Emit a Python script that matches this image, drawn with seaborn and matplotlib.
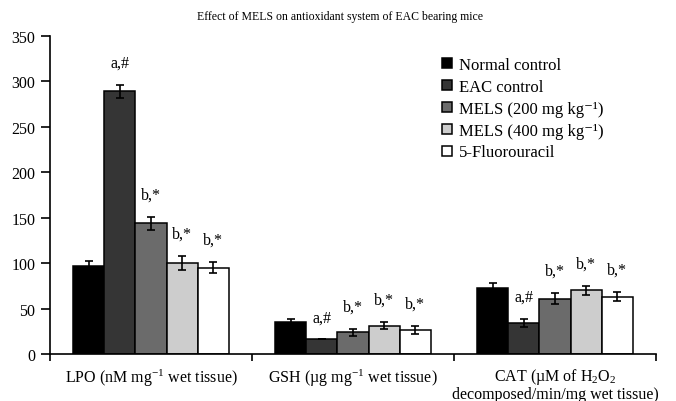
import numpy as np
import pandas as pd
import matplotlib
matplotlib.use("Agg")
import matplotlib.pyplot as plt
from matplotlib.lines import Line2D
import seaborn as sns

sns.set_theme(style="ticks")
plt.rcParams.update({
    "font.family": ["Liberation Serif", "DejaVu Serif"],
    "mathtext.fontset": "custom",
    "mathtext.rm": "Liberation Serif",
    "mathtext.it": "Liberation Serif:italic",
    "mathtext.bf": "Liberation Serif:bold",
    "axes.edgecolor": "black",
    "axes.linewidth": 1.2,
    "xtick.color": "black", "ytick.color": "black",
    "text.color": "black", "axes.labelcolor": "black",
})

# categories on the x axis
MARKERS = ["LPO (nM mg$^{-1}$ wet tissue)",
           "GSH (\u00b5g mg$^{-1}$ wet tissue)",
           "CAT (\u00b5M of H$_2$O$_2$\ndecomposed/min/mg wet tissue)"]
# treatment groups (hue)
GROUPS = ["Normal control", "EAC control",
          "MELS (200 mg kg\u207b\u00b9)", "MELS (400 mg kg\u207b\u00b9)",
          "5-Fluorouracil"]
COLORS = ["#000000", "#353535", "#6b6b6b", "#cdcdcd", "#ffffff"]

# values, one entry per group
LPO_MEAN = [97, 289, 144, 100, 95]
LPO_ERR = [5, 7, 7, 8, 6]
GSH_MEAN = [35, 16, 24, 31, 26]
GSH_ERR = [4, 0, 4, 4, 4.5]
CAT_MEAN = [73, 34, 61, 70, 63]
CAT_ERR = [5.5, 4.5, 6.5, 5, 5]
SIGNIF = ["", "a,#", "b,*", "b,*", "b,*"]

YTICKS = [0, 50, 100, 150, 200, 250, 300, 350]

rows = []
for marker, means, errs in zip(MARKERS, [LPO_MEAN, GSH_MEAN, CAT_MEAN],
                               [LPO_ERR, GSH_ERR, CAT_ERR]):
    for g, m, e, s in zip(GROUPS, means, errs, SIGNIF):
        rows.append({"marker": marker, "group": g, "value": m, "err": e, "sig": s})
df = pd.DataFrame(rows)

fig = plt.figure(figsize=(6.76, 4.02), dpi=100)
ax = fig.add_axes([50 / 676, 1 - 355 / 402, 606 / 676, 318 / 402])

sns.barplot(data=df, x="marker", y="value", hue="group",
            order=MARKERS, hue_order=GROUPS, palette=COLORS,
            saturation=1, width=0.77, gap=0, errorbar=None,
            edgecolor="black", linewidth=1.1, legend=False, ax=ax)

bar_containers = list(ax.containers)
for gi, cont in enumerate(bar_containers):
    sub = df[df["group"] == GROUPS[gi]].set_index("marker").loc[MARKERS]
    xs = [b.get_x() + b.get_width() / 2 for b in cont]
    ys = [b.get_height() for b in cont]
    ax.errorbar(xs, ys, yerr=sub["err"].values, fmt="none", ecolor="black",
                elinewidth=1.2, capsize=3, capthick=1.2, zorder=5)
    for x, y, e, s in zip(xs, ys, sub["err"].values, sub["sig"].values):
        if s:
            ax.annotate(s, (x, y + e), xytext=(0, 16), textcoords="offset points",
                        ha="center", va="center", fontsize=11.5)

ax.set_xlim(-0.5, 2.5)
ax.set_ylim(0, 350)
ax.set_yticks(YTICKS)
ax.set_xticks([-0.5, 0.5, 1.5, 2.5])
ax.set_xticklabels([])
ax.set_xticks([0, 1, 2], minor=True)
ax.set_xticklabels(MARKERS, minor=True, fontsize=11.5, linespacing=1.0)
ax.tick_params(axis="x", which="major", length=5, width=1.2, direction="out")
ax.tick_params(axis="x", which="minor", length=0, pad=9)
ax.tick_params(axis="y", length=6.5, width=1.2, labelsize=11.5, pad=4)
ax.set_xlabel("")
ax.set_ylabel("")
sns.despine(ax=ax)

handles = [Line2D([], [], marker="s", linestyle="", markersize=6.5,
                  markerfacecolor=c, markeredgecolor="black",
                  markeredgewidth=1.1, label=g)
           for g, c in zip(GROUPS, COLORS)]
ax.legend(handles=handles, loc="upper left",
          bbox_to_anchor=(440 / 676, 1 - 58 / 402),
          bbox_transform=fig.transFigure, frameon=False, fontsize=12,
          handlelength=0.8, handletextpad=0.35,
          labelspacing=0.35, borderpad=0, borderaxespad=0)

fig.suptitle("Effect of MELS on antioxidant system of EAC bearing mice",
             x=0.503, y=1 - 17 / 402, va="center", fontsize=8.5)

fig.savefig("out.png", dpi=100)
